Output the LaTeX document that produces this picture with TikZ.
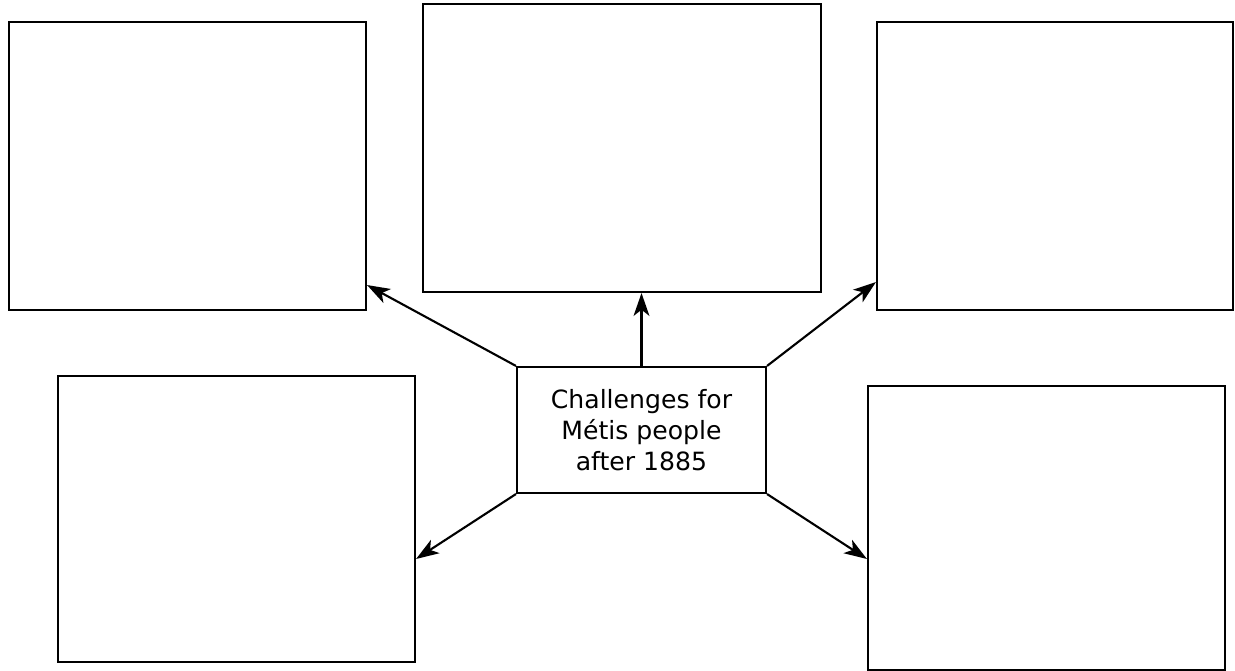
\documentclass[tikz,border=0pt]{standalone}
\usepackage{fontspec}
\setmainfont{DejaVu Sans}
\usepackage{tikz}
\usetikzlibrary{arrows.meta, positioning}

\begin{document}
\begin{tikzpicture}[
  x=0.02cm, y=-0.02cm,
  box/.style={draw, line width=1.2pt, inner sep=0pt},
  hub/.style={draw, line width=1.2pt, align=center, inner sep=0pt,
              minimum width=249*0.02cm, minimum height=126*0.02cm,
              font=\fontsize{14.3}{17.6}\selectfont},
  link/.style={-{Stealth[length=13pt,width=9pt,inset=3.5pt]}, line width=1.2pt}
]
  \useasboundingbox (0,0) rectangle (1235,671);

  % answer boxes
  \node[box, minimum width=357*0.02cm, minimum height=288*0.02cm] (TL) at (187.5,166) {};
  \node[box, minimum width=398*0.02cm, minimum height=288*0.02cm] (TC) at (622,148) {};
  \node[box, minimum width=356*0.02cm, minimum height=288*0.02cm] (TR) at (1055,166) {};
  \node[box, minimum width=357*0.02cm, minimum height=286*0.02cm] (BL) at (236.5,519) {};
  \node[box, minimum width=357*0.02cm, minimum height=284*0.02cm] (BR) at (1046.5,528) {};

  % centre
  \node[hub] (C) at (641.5,430) {Challenges for\\Métis people\\after 1885};

  \draw[link] (C.north west) -- ([yshift=0.52cm]TL.south east);
  \draw[link] (C.north) -- (C.north |- TC.south);
  \draw[link] (C.north east) -- ([yshift=0.58cm]TR.south west);
  \draw[link] (C.south west) -- ([yshift=-0.8cm]BL.east);
  \draw[link] (C.south east) -- ([yshift=-0.62cm]BR.west);
\end{tikzpicture}
\end{document}
